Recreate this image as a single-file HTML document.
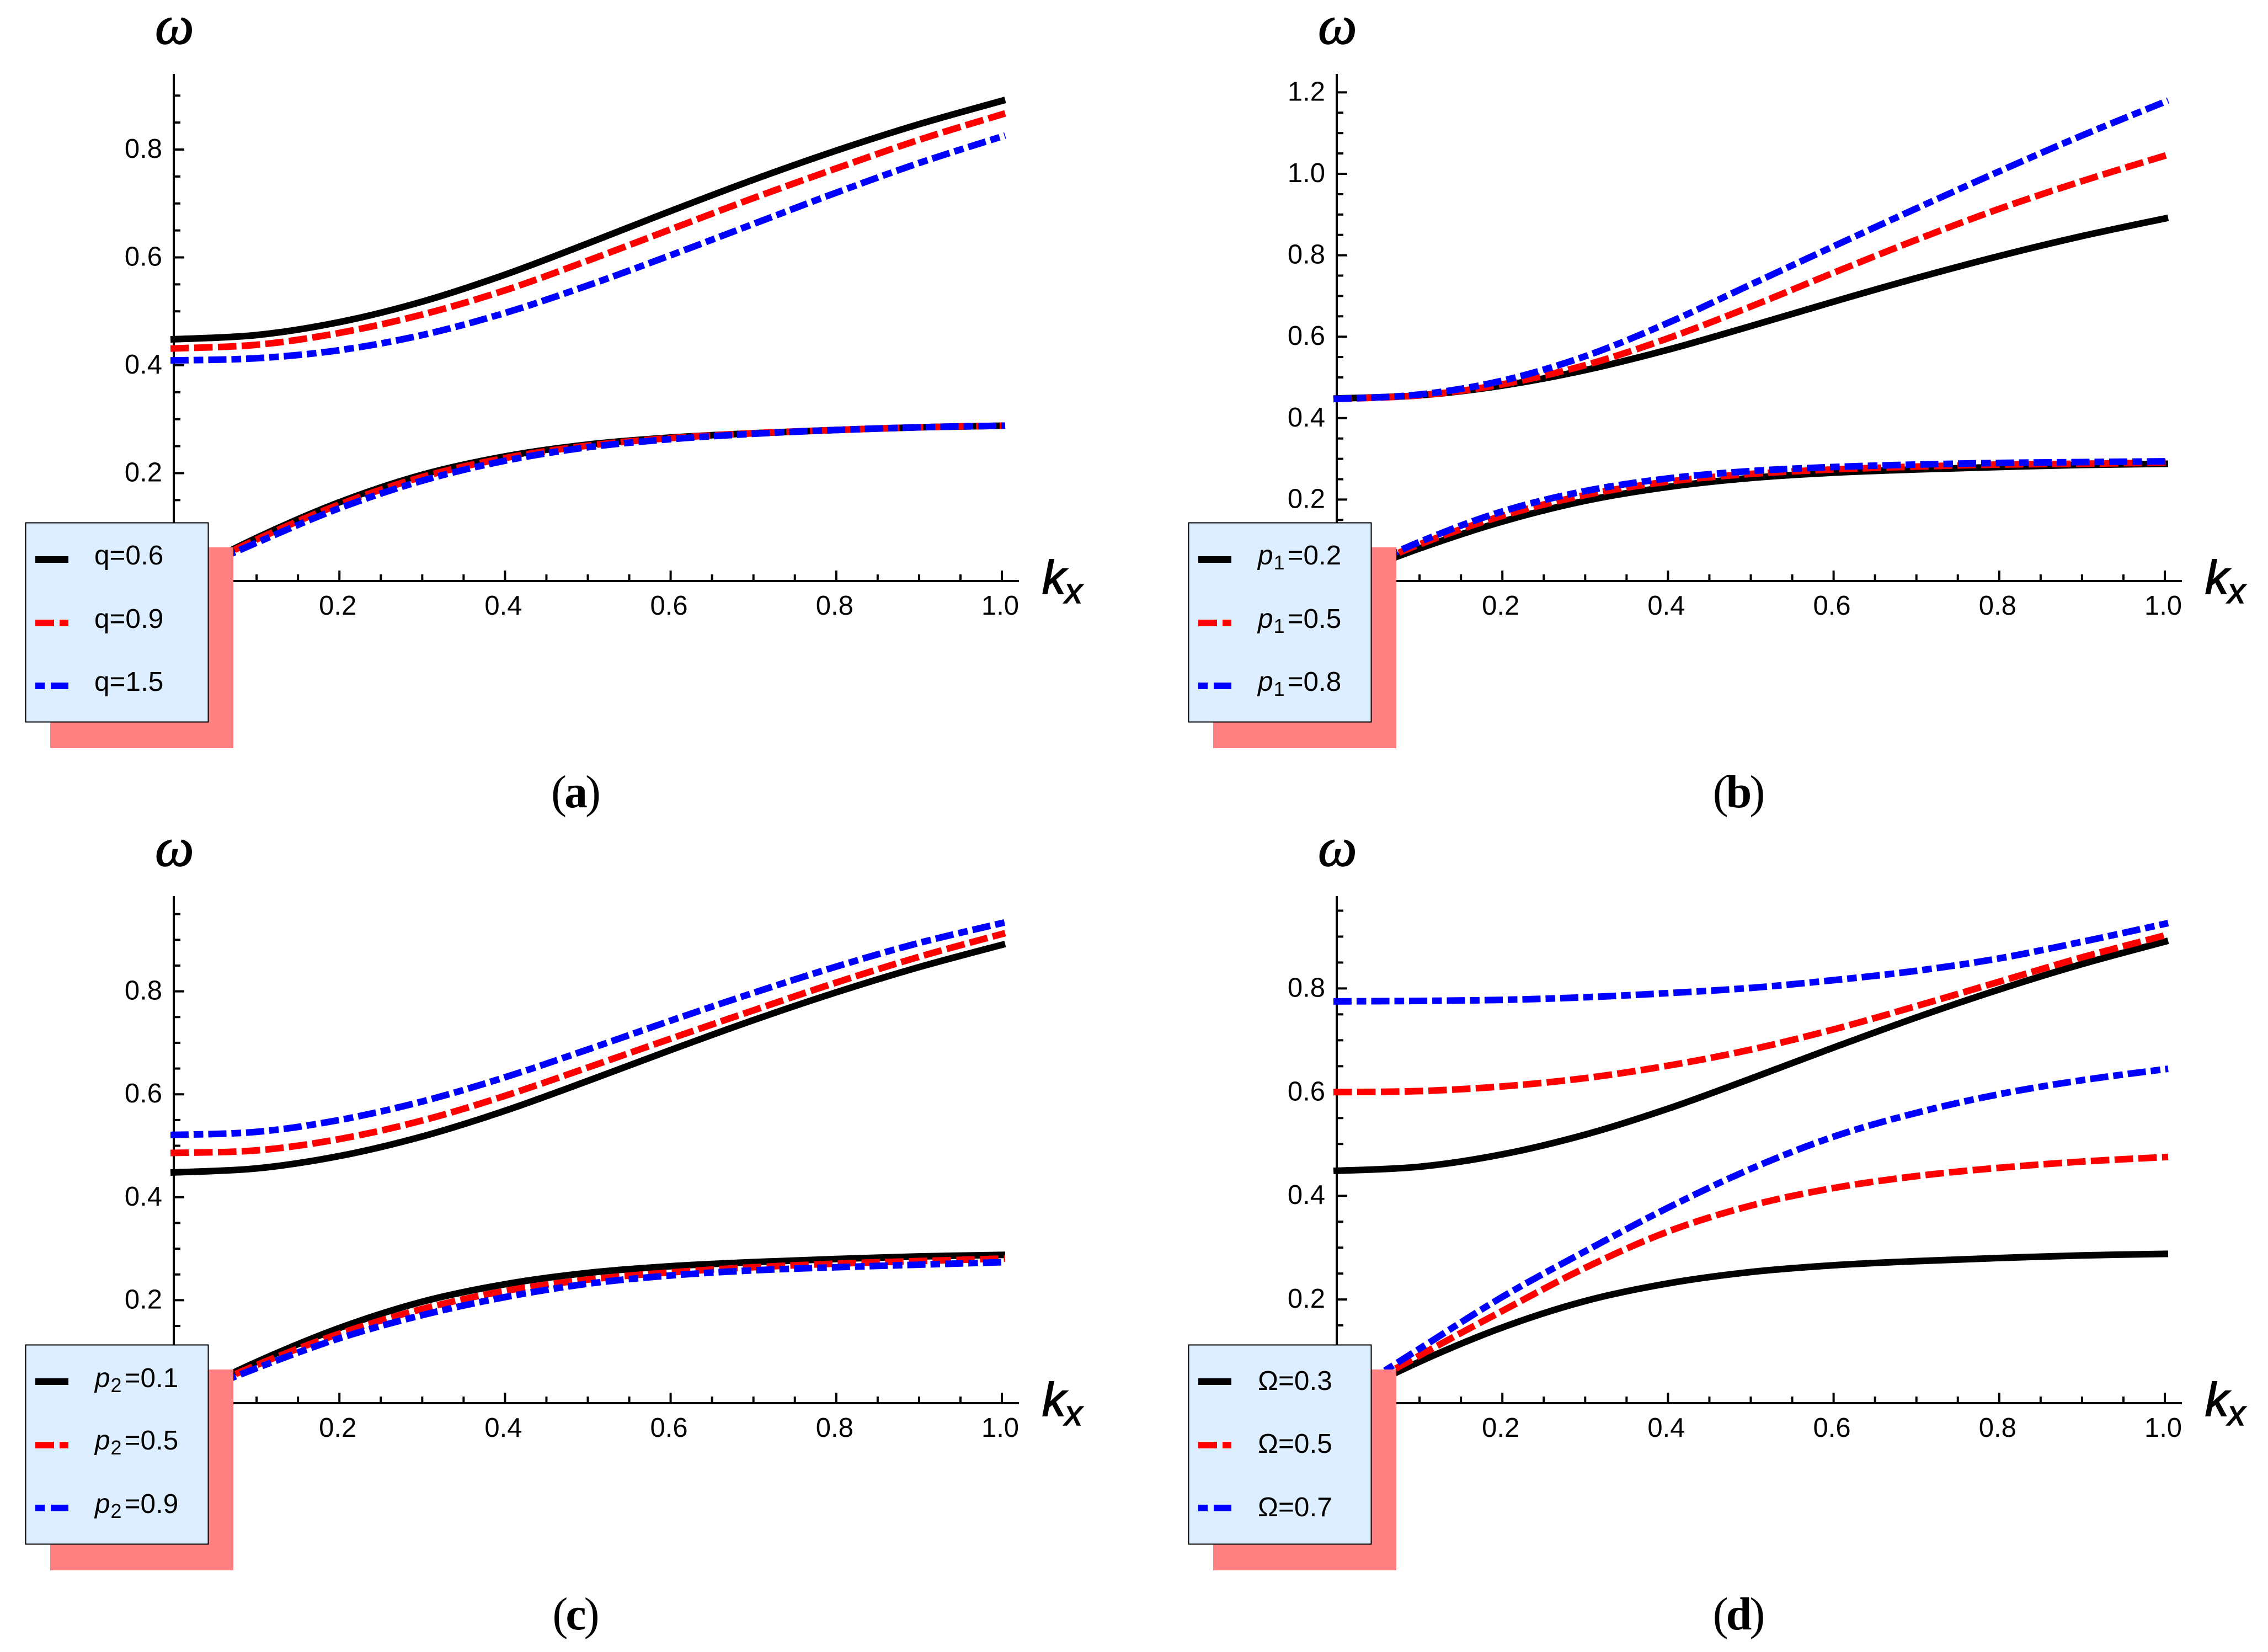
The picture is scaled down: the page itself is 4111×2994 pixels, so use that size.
<!DOCTYPE html>
<html lang="en">
<head>
<meta charset="utf-8">
<title>Dispersion curves of omega versus k_x</title>
<style>
html,body{margin:0;padding:0;background:#fff;width:4111px;height:2994px;overflow:hidden}
svg{display:block}
text{font-family:"Liberation Sans",sans-serif;fill:#000}
</style>
</head>
<body>
<svg id="figure" xmlns="http://www.w3.org/2000/svg" width="4111" height="2994" viewBox="0 0 4111 2994">
<rect x="0" y="0" width="4111" height="2994" fill="#fff"/>
</svg>
<script>
// Shared horizontal samples (k_x)
const kValues = [-0.004, 0.1, 0.2, 0.3, 0.4, 0.5, 0.6, 0.7, 0.8, 0.9, 1.004];

// Tick labels
const xTickLabels = ['0.2', '0.4', '0.6', '0.8', '1.0'];
const yTickLabelsA = ['0.2', '0.4', '0.6', '0.8'];
const yTickLabelsB = ['0.2', '0.4', '0.6', '0.8', '1.0', '1.2'];
const yTickLabelsC = ['0.2', '0.4', '0.6', '0.8'];
const yTickLabelsD = ['0.2', '0.4', '0.6', '0.8'];

// Black reference curves (identical in all panels)
const upperBlack = [0.448, 0.456, 0.480, 0.518, 0.568, 0.626, 0.686, 0.744, 0.798, 0.847, 0.892];
const lowerBlack = [0, 0.080, 0.146, 0.197, 0.231, 0.253, 0.266, 0.274, 0.280, 0.285, 0.288];

// Panel (a)
const aUpperRed = [0.431, 0.438, 0.460, 0.494, 0.539, 0.594, 0.652, 0.710, 0.765, 0.818, 0.867];
const aUpperBlue = [0.409, 0.413, 0.428, 0.456, 0.497, 0.548, 0.604, 0.662, 0.720, 0.775, 0.826];
const aLowerRed = [0, 0.077, 0.142, 0.193, 0.228, 0.251, 0.265, 0.274, 0.280, 0.285, 0.288];
const aLowerBlue = [0, 0.071, 0.135, 0.186, 0.223, 0.248, 0.263, 0.273, 0.280, 0.285, 0.288];

// Panel (b)
const bUpperRed = [0.447, 0.456, 0.483, 0.530, 0.596, 0.674, 0.757, 0.838, 0.914, 0.982, 1.047];
const bUpperBlue = [0.447, 0.458, 0.492, 0.552, 0.634, 0.728, 0.822, 0.915, 1.006, 1.094, 1.180];
const bLowerRed = [0, 0.090, 0.160, 0.211, 0.244, 0.263, 0.274, 0.281, 0.286, 0.288, 0.291];
const bLowerBlue = [0, 0.096, 0.171, 0.221, 0.252, 0.270, 0.280, 0.286, 0.290, 0.292, 0.294];

// Panel (c)
const cUpperRed = [0.486, 0.491, 0.513, 0.549, 0.597, 0.652, 0.708, 0.763, 0.817, 0.867, 0.913];
const cUpperBlue = [0.521, 0.527, 0.550, 0.586, 0.633, 0.687, 0.743, 0.797, 0.848, 0.894, 0.934];
const cLowerRed = [0, 0.074, 0.135, 0.183, 0.218, 0.240, 0.254, 0.264, 0.271, 0.276, 0.281];
const cLowerBlue = [0, 0.068, 0.126, 0.171, 0.206, 0.232, 0.248, 0.258, 0.264, 0.269, 0.274];

// Panel (d)
const dUpperRed = [0.600, 0.602, 0.611, 0.627, 0.651, 0.682, 0.721, 0.766, 0.813, 0.860, 0.904];
const dUpperBlue = [0.775, 0.776, 0.778, 0.783, 0.791, 0.801, 0.816, 0.834, 0.858, 0.890, 0.926];
const dLowerRed = [0, 0.092, 0.178, 0.261, 0.331, 0.381, 0.415, 0.438, 0.454, 0.466, 0.475];
const dLowerBlue = [0, 0.105, 0.205, 0.293, 0.377, 0.452, 0.514, 0.560, 0.596, 0.623, 0.645];

// Legend values
const legendValuesA = ['0.6', '0.9', '1.5'];
const legendValuesB = ['0.2', '0.5', '0.8'];
const legendValuesC = ['0.1', '0.5', '0.9'];
const legendValuesD = ['0.3', '0.5', '0.7'];

const NS = 'http://www.w3.org/2000/svg';
const root = document.getElementById('figure');

function mk(parent, tag, attrs, text) {
  const n = document.createElementNS(NS, tag);
  for (const key in attrs) n.setAttribute(key, attrs[key]);
  if (text !== undefined) n.textContent = text;
  parent.appendChild(n);
  return n;
}

function smoothPath(pts) {
  let d = 'M' + pts[0][0].toFixed(2) + ' ' + pts[0][1].toFixed(2);
  for (let i = 0; i < pts.length - 1; i++) {
    const p0 = pts[Math.max(i - 1, 0)];
    const p1 = pts[i];
    const p2 = pts[i + 1];
    const p3 = pts[Math.min(i + 2, pts.length - 1)];
    const c1x = p1[0] + (p2[0] - p0[0]) / 6;
    const c1y = p1[1] + (p2[1] - p0[1]) / 6;
    const c2x = p2[0] - (p3[0] - p1[0]) / 6;
    const c2y = p2[1] - (p3[1] - p1[1]) / 6;
    d += 'C' + c1x.toFixed(2) + ' ' + c1y.toFixed(2) + ' ' + c2x.toFixed(2) + ' ' + c2y.toFixed(2) + ' ' + p2[0].toFixed(2) + ' ' + p2[1].toFixed(2);
  }
  return d;
}

const DASH_RED = '33.5 9.5';
const DASH_BLUE = '33 9 17.5 9';

function drawPanel(cfg) {
  const dx = cfg.dx;
  const dy = cfg.dy;
  const xScale = function (k) { return dx + 315 + 1501 * k; };
  const yScale = function (w) { return dy + 1053 - cfg.pxPerUnit * w; };

  const g = mk(root, 'g', {});
  
  

  // Axes
  const xAxis = mk(g, 'line', { x1: dx + 313, y1: dy + 1053, x2: dx + 1847, y2: dy + 1053, stroke: '#000', 'stroke-width': 4 });
  
  
  const yAxis = mk(g, 'line', { x1: dx + 315, y1: dy + 134, x2: dx + 315, y2: dy + 1055, stroke: '#000', 'stroke-width': 4 });
  
  

  // X ticks every 0.05, major every 0.2
  for (let i = 1; i <= 20; i++) {
    const k = i * 0.05;
    const len = i % 4 === 0 ? 19 : 12;
    const t = mk(g, 'line', { x1: xScale(k), y1: dy + 1053, x2: xScale(k), y2: dy + 1053 - len, stroke: '#000', 'stroke-width': 4 });
    
    
  }
  xTickLabels.forEach(function (label) {
    const t = mk(g, 'text', { x: xScale(parseFloat(label)) - 3, y: dy + 1114, 'font-size': 49, 'text-anchor': 'middle' }, label);
    
    
  });

  // Y ticks every 0.05, major every 0.2
  for (let i = 1; yScale(i * 0.05) > dy + 134; i++) {
    const w = i * 0.05;
    const len = i % 4 === 0 ? 19 : 12;
    const t = mk(g, 'line', { x1: dx + 315, y1: yScale(w), x2: dx + 315 + len, y2: yScale(w), stroke: '#000', 'stroke-width': 4 });
    
    
  }
  cfg.yLabels.forEach(function (label) {
    const t = mk(g, 'text', { x: dx + 294, y: yScale(parseFloat(label)) + 15, 'font-size': 49, 'text-anchor': 'end' }, label);
    
    
  });

  // Axis titles
  const yTitle = mk(g, 'text', { x: dx + 281, y: dy + 79, 'font-size': 100, 'font-style': 'italic', stroke: '#000', 'stroke-width': 1.5, style: 'font-family:"Liberation Serif",serif' }, 'ω');
  
  

  const xTitle = mk(g, 'text', { x: dx + 1889, y: dy + 1076, 'font-size': 85, 'font-style': 'italic', stroke: '#000', 'stroke-width': 2 }, 'k');
  
  
  const xSub = mk(g, 'text', { x: dx + 1930, y: dy + 1093, 'font-size': 64, 'font-style': 'italic', stroke: '#000', 'stroke-width': 1.5 }, 'x');
  
  

  // Curves
  cfg.series.forEach(function (s) {
    const pts = kValues.map(function (k, i) { return [xScale(k), yScale(s.values[i])]; });
    const attrs = { d: smoothPath(pts), fill: 'none', stroke: s.color, 'stroke-width': 12 };
    if (s.dash) attrs['stroke-dasharray'] = s.dash;
    const path = mk(g, 'path', attrs);
    
    
  });

  // Legend shadow
  const shadow = mk(g, 'rect', { x: dx + 91, y: dy + 992, width: 332, height: 364, fill: '#ff8080' });
  
  

  // Legend box
  const box = mk(g, 'rect', { x: dx + 46.5, y: dy + 947.5, width: 331, height: 361, fill: '#dceeff', stroke: '#000', 'stroke-width': 2 });
  
  

  // Legend entries
  const swatchColors = ['#000', '#f00', '#00f'];
  const swatchDashes = ['', '34 10', '17 11 32'];
  const swatchY = [1014, 1129, 1243];
  cfg.legendValues.forEach(function (val, i) {
    const entry = mk(g, 'g', {});
    
    

    const sAttrs = { x1: dx + 64, y1: dy + swatchY[i], x2: dx + 124, y2: dy + swatchY[i], stroke: swatchColors[i], 'stroke-width': 12 };
    if (swatchDashes[i]) sAttrs['stroke-dasharray'] = swatchDashes[i];
    const sw = mk(entry, 'line', sAttrs);
    
    

    const tx = mk(entry, 'text', { x: dx + cfg.legendTextX, y: dy + cfg.legendBase[i], 'font-size': 49.5 });
    
    
    if (cfg.legendSub) {
      mk(tx, 'tspan', { 'font-style': 'italic' }, cfg.legendSymbol);
      mk(tx, 'tspan', { 'font-size': 36, dy: 9, dx: 1 }, cfg.legendSub);
      mk(tx, 'tspan', { dy: -9, dx: 5 }, '=' + val);
    } else {
      mk(tx, 'tspan', {}, cfg.legendSymbol + '=' + val);
    }
  });

  // Caption
  const cap = mk(g, 'text', { x: dx + 1042, y: dy + 1463, 'font-size': 84, 'text-anchor': 'middle', 'letter-spacing': -4, style: 'font-family:"Liberation Serif",serif' });
  
  
  mk(cap, 'tspan', {}, '(');
  mk(cap, 'tspan', { 'font-weight': 'bold' }, cfg.id);
  mk(cap, 'tspan', {}, ')');
}

function blackRedBlue(upperRed, upperBlue, lowerRed, lowerBlue) {
  return [
    { id: 'upper-black', values: upperBlack, color: '#000', dash: '' },
    { id: 'lower-black', values: lowerBlack, color: '#000', dash: '' },
    { id: 'upper-red', values: upperRed, color: '#f00', dash: DASH_RED },
    { id: 'lower-red', values: lowerRed, color: '#f00', dash: DASH_RED },
    { id: 'upper-blue', values: upperBlue, color: '#00f', dash: DASH_BLUE },
    { id: 'lower-blue', values: lowerBlue, color: '#00f', dash: DASH_BLUE }
  ];
}

drawPanel({
  id: 'a', dx: 0, dy: 0, pxPerUnit: 977.5, yLabels: yTickLabelsA,
  series: blackRedBlue(aUpperRed, aUpperBlue, aLowerRed, aLowerBlue),
  legendValues: legendValuesA, legendSymbol: 'q', legendSub: '',
  legendTextX: 171, legendBase: [1023, 1138, 1252]
});
drawPanel({
  id: 'b', dx: 2108, dy: 0, pxPerUnit: 738, yLabels: yTickLabelsB,
  series: blackRedBlue(bUpperRed, bUpperBlue, bLowerRed, bLowerBlue),
  legendValues: legendValuesB, legendSymbol: 'p', legendSub: '1',
  legendTextX: 172, legendBase: [1023, 1138, 1252]
});
drawPanel({
  id: 'c', dx: 0, dy: 1490, pxPerUnit: 933, yLabels: yTickLabelsC,
  series: blackRedBlue(cUpperRed, cUpperBlue, cLowerRed, cLowerBlue),
  legendValues: legendValuesC, legendSymbol: 'p', legendSub: '2',
  legendTextX: 172, legendBase: [1024, 1137, 1252]
});
drawPanel({
  id: 'd', dx: 2108, dy: 1490, pxPerUnit: 939.5, yLabels: yTickLabelsD,
  series: blackRedBlue(dUpperRed, dUpperBlue, dLowerRed, dLowerBlue),
  legendValues: legendValuesD, legendSymbol: 'Ω', legendSub: '',
  legendTextX: 172, legendBase: [1029, 1143, 1258]
});
</script>
</body>
</html>
